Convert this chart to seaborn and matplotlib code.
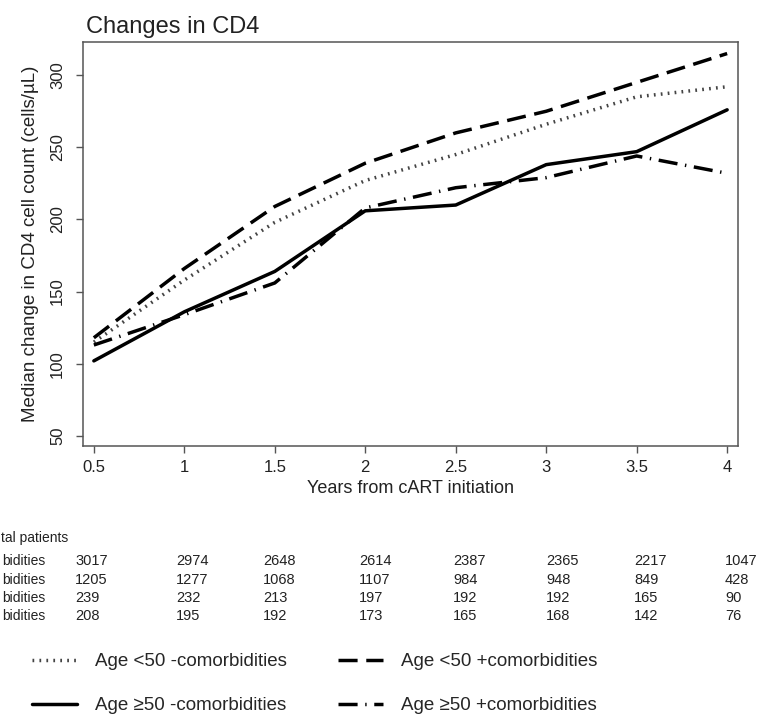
import pandas as pd
import numpy as np
import seaborn as sns
import matplotlib.pyplot as plt

years = [0.5, 1, 1.5, 2, 2.5, 3, 3.5, 4]
groups = ["Age <50 -comorbidities", "Age ≥50 -comorbidities",
          "Age <50 +comorbidities", "Age ≥50 +comorbidities"]

# median change in CD4 (cells/uL)
young_no_com = [115, 158, 198, 227, 245, 266, 285, 292]
old_no_com = [102, 136, 164, 206, 210, 238, 247, 276]
young_com = [118, 166, 209, 239, 260, 275, 295, 315]
old_com = [113, 134, 156, 208, 222, 229, 244, 232]

# patients at each time point (table under the plot); the row labels are
# cut at the left edge of the original figure, only their ends show
table_title = "tal patients"
table_labels = ["bidities", "bidities", "bidities", "bidities"]
n_young_no_com = [3017, 2974, 2648, 2614, 2387, 2365, 2217, 1047]
n_young_com = [1205, 1277, 1068, 1107, 984, 948, 849, 428]
n_old_no_com = [239, 232, 213, 197, 192, 192, 165, 90]
n_old_com = [208, 195, 192, 173, 165, 168, 142, 76]

df = pd.DataFrame({
    "years": years * 4,
    "cd4": young_no_com + old_no_com + young_com + old_com,
    "group": np.repeat(groups, len(years)),
})

sns.set_theme(style="ticks")
plt.rcParams["font.family"] = ["Liberation Sans", "DejaVu Sans"]

W, H = 763, 717
fig = plt.figure(figsize=(W / 100, H / 100), dpi=100)
ax = fig.add_axes([83 / W, 1 - 446 / H, 655 / W, 404 / H])

dashes = {groups[0]: (0.5, 1.5), groups[1]: "",
          groups[2]: (5.5, 2.5), groups[3]: (5.5, 2.2, 0.4, 2.2)}
palette = {groups[0]: "#444444", groups[1]: "black",
           groups[2]: "black", groups[3]: "black"}

sns.lineplot(data=df, x="years", y="cd4", hue="group", style="group",
             hue_order=groups, style_order=groups, dashes=dashes,
             palette=palette, linewidth=2.5, errorbar=None, ax=ax)

lines = ax.get_lines()[:4]
ax.get_legend().remove()

ax.set_xlim(0.44, 4.06)
ax.set_ylim(43, 323)
ax.set_xticks(years)
ax.set_xticklabels(["0.5", "1", "1.5", "2", "2.5", "3", "3.5", "4"])
ax.set_yticks([50, 100, 150, 200, 250, 300])
ax.set_yticklabels(["50", "100", "150", "200", "250", "300"],
                   rotation=90, va="center")
ax.tick_params(axis="both", labelsize=12, length=5, width=1,
               color="#555555", labelcolor="#222222")
ax.tick_params(axis="x", pad=5)
ax.tick_params(axis="y", pad=8)
for s in ax.spines.values():
    s.set_color("#555555")
    s.set_linewidth(1.1)

ax.set_xlabel("Years from cART initiation", fontsize=13, labelpad=4,
              color="#222222")
ax.set_ylabel("Median change in CD4 cell count (cells/µL)", fontsize=13.5,
              labelpad=8, color="#222222")
fig.text(86 / W, 1 - 27 / H, "Changes in CD4", fontsize=17, va="center",
         ha="left", color="#222222")

# numbers-at-risk table
col_px = [75, 176, 263, 359, 453, 546, 634, 725]
row_px = [561, 580, 598, 616]
fig.text(1 / W, 1 - 538 / H, table_title, fontsize=10,
         va="center", ha="left", color="#222222")
counts = [n_young_no_com, n_young_com, n_old_no_com, n_old_com]
for lab, row, y in zip(table_labels, counts, row_px):
    fig.text(45 / W, 1 - y / H, lab, fontsize=10, va="center", ha="right",
             color="#222222")
    for n, x in zip(row, col_px):
        fig.text(x / W, 1 - y / H, str(n), fontsize=10.5, va="center",
                 ha="left", color="#222222")

fig.legend(lines, groups, ncol=2, loc="upper left",
           bbox_to_anchor=(32 / W, 1 - 653 / H), frameon=False,
           fontsize=13.5, handlelength=2.4, handletextpad=0.95,
           columnspacing=2.75, labelspacing=1.45, borderpad=0,
           borderaxespad=0)

fig.savefig("out.png", dpi=100)
